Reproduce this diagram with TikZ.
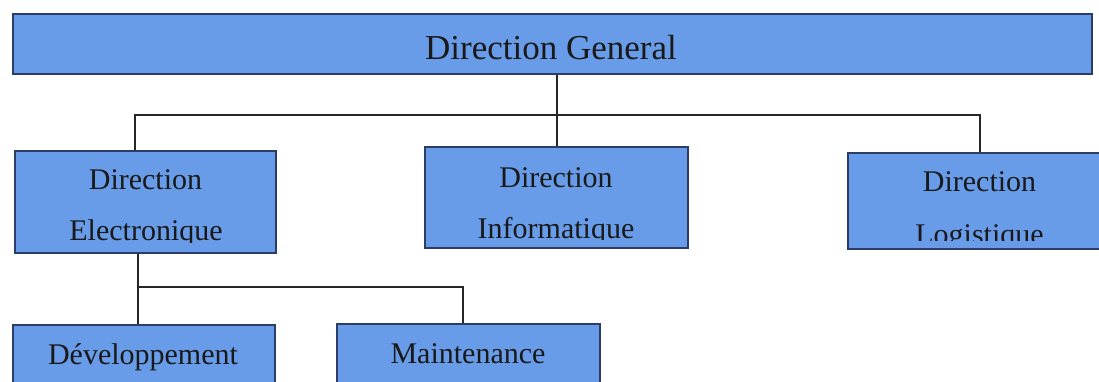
\documentclass[tikz,border=0pt]{standalone}
\usepackage{fontspec}
\setmainfont{Liberation Serif}
\definecolor{boxfill}{RGB}{104,156,232}
\definecolor{boxline}{RGB}{44,62,104}
\begin{document}
\begin{tikzpicture}[x=1pt,y=-1pt,
  unit/.style={draw=boxline, fill=boxfill, line width=1.4pt, inner sep=0pt},
  label/.style={anchor=base, inner sep=0pt, text=black!90},
  big/.style={font=\fontsize{35}{42}\selectfont},
  mid/.style={font=\fontsize{30}{36}\selectfont},
  link/.style={draw=black!85, line width=1.4pt}]
\useasboundingbox (0,0) rectangle (1099,381);

% organisation boxes
\node[unit, minimum width=1079pt, minimum height=60pt] (dg) at (552.5,44) {};
\node[unit, minimum width=261pt, minimum height=102pt] (de) at (145.5,202) {};
\node[unit, minimum width=263pt, minimum height=101pt] (di) at (556.5,197.5) {};
\node[unit, minimum width=263pt, minimum height=96pt] (dl) at (979.5,201) {};
\node[unit, minimum width=262pt, minimum height=100pt] (dev) at (144,375) {};
\node[unit, minimum width=263pt, minimum height=100pt] (mnt) at (468.5,374) {};

% box titles (second lines are cut off at the inner text area)
\node[label, big] (tdg) at (551,59) {Direction General};
\begin{scope}
  \clip (de.north west) rectangle ([yshift=11pt]de.south east);
  \node[label, mid] (tde1) at (145.5,189) {Direction};
  \node[label, mid] (tde2) at (146,240) {Electronique};
\end{scope}
\begin{scope}
  \clip (di.north west) rectangle ([yshift=9.5pt]di.south east);
  \node[label, mid] (tdi1) at (556,187) {Direction};
  \node[label, mid] (tdi2) at (556,238) {Informatique};
\end{scope}
\begin{scope}
  \clip (dl.north west) rectangle ([yshift=9pt]dl.south east);
  \node[label, mid] (tdl1) at (979.5,191) {Direction};
  \node[label, mid] (tdl2) at (979.5,244) {Logistique};
\end{scope}
\node[label, mid] (tdev) at (143,364) {Développement};
\node[label, mid] (tmnt) at (468,363) {Maintenance};

% connectors
\coordinate (busL) at (135,115);
\coordinate (busR) at (980,115);
\coordinate (sub) at (138,287);
\coordinate (subR) at (463,287);
\draw[link] ([xshift=0.5pt]di.north |- dg.south) -- ([xshift=0.5pt]di.north);
\draw[link] (busL |- de.north) -- (busL) -- (busR) -- (busR |- dl.north);
\draw[link] (sub |- de.south) -- (sub |- dev.north);
\draw[link] (sub) -- (subR) -- (subR |- mnt.north);
\end{tikzpicture}
\end{document}
